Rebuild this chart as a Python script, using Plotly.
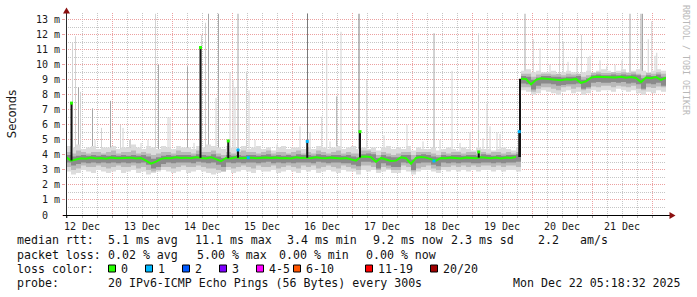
import numpy as np
import pandas as pd
import plotly.graph_objects as go

# ---------------- data ----------------
T0 = pd.Timestamp("2025-12-12 05:36")      # left edge of graph
T_END = pd.Timestamp("2025-12-22 05:36")   # right edge of graph
STEP_H = 2                                 # hours between samples

# median rtt in ms, one row per day (12 samples of 2 h) + final sample
median_ms = [
    3.85, 3.62, 3.70, 3.78, 3.75, 3.82, 3.76, 3.80, 3.74, 3.82, 3.78, 3.80,
    3.78, 3.82, 3.76, 3.80, 3.62, 3.42, 3.55, 3.74, 3.80, 3.78, 3.84, 3.80,
    3.82, 3.78, 3.85, 3.80, 3.76, 3.85, 3.70, 3.58, 3.80, 3.76, 3.84, 3.78,
    3.80, 3.82, 3.78, 3.80, 3.83, 3.79, 3.82, 3.78, 3.80, 3.76, 3.84, 3.80,
    3.82, 3.78, 3.85, 3.80, 3.78, 3.82, 3.80, 3.76, 3.80, 3.72, 3.62, 3.88,
    3.90, 3.85, 3.55, 3.80, 3.70, 3.60, 3.62, 3.84, 3.78, 3.42, 3.80, 3.86,
    3.82, 3.70, 3.62, 3.80, 3.78, 3.82, 3.80, 3.76, 3.82, 3.80, 3.78, 3.85,
    3.80, 3.78, 3.82, 3.76, 3.82, 3.80, 3.86, 9.07, 9.05, 8.70, 9.00, 9.10,
    9.08, 9.02, 9.05, 8.98, 9.04, 9.00, 9.06, 8.80, 8.90, 9.15, 9.20, 9.18,
    9.15, 9.18, 9.16, 9.20, 9.14, 9.18, 9.12, 8.85, 9.15, 9.10, 9.18, 9.00,
    9.15,
]
JUMP_INDEX = 91        # first sample after the level shift
JUMP_HOUR = 181.6      # hours after T0 at which the shift happens

# smoke: outer (lightest), middle and core bands, low / high edge in ms
outer_hi = [
    4.6, 4.5, 4.7, 4.4, 4.5, 4.6, 4.4, 4.5, 4.5, 4.6, 4.4, 4.5,
    4.5, 4.7, 4.5, 4.4, 4.6, 4.5, 4.4, 4.6, 4.5, 4.4, 4.6, 4.5,
    4.5, 4.4, 4.6, 4.5, 4.7, 4.6, 4.5, 4.4, 4.6, 4.5, 4.4, 4.6,
    4.4, 4.5, 4.6, 4.4, 4.5, 4.3, 4.5, 4.6, 4.4, 4.5, 4.5, 4.4,
    4.5, 4.4, 4.6, 4.5, 4.4, 4.5, 4.6, 4.4, 4.5, 4.6, 4.4, 4.5,
    4.4, 4.5, 4.3, 4.5, 4.6, 4.4, 4.5, 4.4, 4.6, 4.3, 4.5, 4.4,
    4.4, 4.5, 4.3, 4.4, 4.5, 4.4, 4.3, 4.5, 4.4, 4.3, 4.5, 4.4,
    4.4, 4.3, 4.4, 4.5, 4.4, 4.3, 4.5, 9.6, 9.7, 9.5, 9.6, 9.5,
    9.5, 9.6, 9.4, 9.5, 9.6, 9.5, 9.4, 9.5, 9.6, 9.5, 9.6, 9.7,
    9.6, 9.5, 9.6, 9.7, 9.5, 9.6, 9.7, 9.6, 9.5, 9.6, 9.7, 9.6,
    9.6,
]
outer_lo = [
    2.9, 2.7, 2.8, 3.0, 2.9, 2.8, 3.0, 2.9, 2.8, 2.9, 3.0, 2.8,
    2.9, 3.0, 2.8, 2.9, 2.7, 2.8, 2.9, 3.0, 2.9, 2.8, 2.9, 3.0,
    2.8, 2.9, 3.0, 2.9, 2.8, 2.7, 2.8, 2.9, 3.0, 2.8, 2.9, 3.0,
    2.9, 2.8, 3.0, 2.9, 2.9, 3.0, 2.8, 2.9, 3.0, 2.9, 2.8, 3.0,
    2.9, 3.0, 2.8, 2.9, 3.0, 2.9, 2.8, 3.0, 2.9, 2.9, 2.7, 3.0,
    2.9, 3.0, 2.8, 2.9, 3.0, 2.8, 2.8, 3.0, 2.9, 2.7, 2.9, 3.0,
    3.0, 2.9, 2.8, 3.0, 2.9, 3.0, 2.9, 3.0, 2.9, 3.0, 2.9, 3.0,
    3.0, 2.9, 3.0, 2.9, 3.0, 3.0, 2.9, 8.3, 8.2, 8.0, 8.1, 8.3,
    8.2, 8.1, 8.0, 8.2, 8.3, 8.1, 8.2, 8.0, 8.1, 8.3, 8.2, 8.3,
    8.3, 8.2, 8.4, 8.3, 8.2, 8.3, 8.1, 8.0, 8.2, 8.1, 8.3, 8.2,
    8.2,
]
mid_hi = [
    4.2, 4.1, 4.3, 4.2, 4.1, 4.2, 4.2, 4.1, 4.2, 4.3, 4.1, 4.2,
    4.2, 4.3, 4.1, 4.2, 4.1, 4.0, 4.1, 4.2, 4.2, 4.1, 4.3, 4.2,
    4.2, 4.1, 4.3, 4.2, 4.2, 4.3, 4.1, 4.0, 4.2, 4.1, 4.2, 4.3,
    4.2, 4.2, 4.1, 4.2, 4.3, 4.1, 4.2, 4.2, 4.1, 4.2, 4.3, 4.1,
    4.2, 4.1, 4.3, 4.2, 4.1, 4.2, 4.3, 4.1, 4.2, 4.1, 4.1, 4.3,
    4.3, 4.2, 4.0, 4.2, 4.1, 4.0, 4.1, 4.2, 4.2, 4.0, 4.2, 4.2,
    4.2, 4.1, 4.0, 4.2, 4.1, 4.2, 4.2, 4.1, 4.2, 4.2, 4.1, 4.2,
    4.1, 4.2, 4.2, 4.1, 4.2, 4.1, 4.2, 9.4, 9.4, 9.2, 9.35, 9.4,
    9.4, 9.35, 9.4, 9.3, 9.4, 9.35, 9.4, 9.2, 9.3, 9.45, 9.5, 9.45,
    9.45, 9.5, 9.45, 9.5, 9.45, 9.5, 9.4, 9.3, 9.45, 9.4, 9.5, 9.4,
    9.4,
]
mid_lo = [
    3.2, 3.0, 3.1, 3.3, 3.2, 3.2, 3.3, 3.2, 3.1, 3.2, 3.3, 3.2,
    3.2, 3.3, 3.1, 3.2, 3.0, 2.9, 3.0, 3.2, 3.2, 3.1, 3.2, 3.3,
    3.2, 3.2, 3.3, 3.2, 3.1, 3.1, 3.0, 2.9, 3.2, 3.1, 3.2, 3.3,
    3.2, 3.1, 3.3, 3.2, 3.2, 3.3, 3.1, 3.2, 3.3, 3.2, 3.1, 3.3,
    3.2, 3.3, 3.1, 3.2, 3.3, 3.2, 3.1, 3.3, 3.2, 3.1, 3.0, 3.3,
    3.3, 3.2, 3.0, 3.2, 3.1, 3.0, 3.0, 3.3, 3.2, 2.9, 3.1, 3.2,
    3.3, 3.1, 3.0, 3.2, 3.2, 3.3, 3.2, 3.3, 3.2, 3.3, 3.2, 3.3,
    3.3, 3.2, 3.3, 3.2, 3.3, 3.3, 3.2, 8.5, 8.5, 8.2, 8.4, 8.5,
    8.5, 8.4, 8.3, 8.5, 8.55, 8.4, 8.5, 8.3, 8.4, 8.55, 8.5, 8.6,
    8.6, 8.5, 8.6, 8.55, 8.5, 8.6, 8.4, 8.3, 8.5, 8.45, 8.55, 8.5,
    8.5,
]
core_hi = [
    4.0, 3.9, 3.95, 4.0, 3.95, 4.0, 3.95, 4.0, 3.95, 4.0, 3.95, 4.0,
    3.95, 4.0, 3.95, 4.0, 3.9, 3.75, 3.85, 3.95, 4.0, 3.95, 4.0, 4.0,
    4.0, 3.95, 4.05, 4.0, 3.95, 4.05, 3.9, 3.8, 4.0, 3.95, 4.0, 3.95,
    4.0, 4.0, 3.95, 4.0, 4.05, 3.95, 4.0, 3.95, 4.0, 3.95, 4.05, 4.0,
    4.0, 3.95, 4.05, 4.0, 3.95, 4.0, 4.0, 3.95, 4.0, 3.9, 3.85, 4.05,
    4.1, 4.05, 3.8, 4.0, 3.9, 3.85, 3.85, 4.0, 4.0, 3.7, 4.0, 4.05,
    4.0, 3.9, 3.85, 4.0, 3.95, 4.0, 4.0, 3.95, 4.0, 4.0, 3.95, 4.05,
    4.0, 3.95, 4.0, 3.95, 4.0, 4.0, 4.05, 9.25, 9.2, 9.0, 9.15, 9.25,
    9.25, 9.2, 9.2, 9.15, 9.2, 9.2, 9.25, 9.0, 9.1, 9.3, 9.35, 9.3,
    9.3, 9.35, 9.3, 9.35, 9.3, 9.35, 9.3, 9.1, 9.3, 9.25, 9.35, 9.2,
    9.25,
]
core_lo = [
    3.5, 3.3, 3.4, 3.5, 3.45, 3.5, 3.45, 3.5, 3.45, 3.5, 3.45, 3.5,
    3.45, 3.5, 3.45, 3.5, 3.35, 3.1, 3.2, 3.4, 3.5, 3.45, 3.5, 3.5,
    3.5, 3.45, 3.55, 3.5, 3.45, 3.5, 3.35, 3.2, 3.5, 3.45, 3.5, 3.45,
    3.5, 3.5, 3.45, 3.5, 3.55, 3.45, 3.5, 3.45, 3.5, 3.45, 3.5, 3.5,
    3.5, 3.45, 3.55, 3.5, 3.45, 3.5, 3.5, 3.45, 3.45, 3.35, 3.25, 3.55,
    3.55, 3.5, 3.1, 3.45, 3.3, 3.2, 3.2, 3.5, 3.45, 3.0, 3.45, 3.5,
    3.5, 3.35, 3.25, 3.5, 3.45, 3.5, 3.45, 3.5, 3.5, 3.45, 3.45, 3.5,
    3.5, 3.45, 3.5, 3.45, 3.5, 3.5, 3.55, 8.75, 8.7, 8.35, 8.6, 8.75,
    8.75, 8.7, 8.6, 8.65, 8.7, 8.7, 8.75, 8.4, 8.5, 8.8, 8.85, 8.8,
    8.8, 8.85, 8.8, 8.85, 8.75, 8.8, 8.7, 8.4, 8.75, 8.7, 8.8, 8.6,
    8.7,
]

# outlier pings (smoke spikes): hours after T0, top in ms, shade class
spike_hours = [2.6, 3.8, 5.0, 5.8, 10.6, 14.2, 17.8, 21.8, 22.8, 25.6, 32.8, 35.8,
               37.0, 40.8, 41.6, 48.6, 51.2, 54.2, 55.8, 57.0, 60.0, 61.0, 65.6, 66.8,
               67.6, 68.8, 72.2, 73.2, 96.6, 97.6, 102.3, 104.3, 108.3, 110.0, 117.2, 120.3,
               127.2, 136.4, 142.8, 147.2, 154.4, 165.0, 166.8, 168.4, 169.6, 172.4,
               183.6, 186.9, 189.6, 197.4, 198.9, 204.4, 206.2, 209.6, 213.6, 216.3,
               225.6, 230.0, 230.6, 232.9, 234.3, 236.3,
               11.6, 30.0, 75.6, 84.4, 93.6, 105.6, 128.4, 149.6, 157.6, 161.6, 173.6,
               193.6, 200.8, 208.8, 219.6, 222.4, 235.6]
spike_top_ms = [11.5, 11.9, 8.5, 8.2, 7.1, 5.8, 7.6, 6.0, 5.8, 5.0, 5.0, 13.4,
                10.0, 6.5, 6.5, 9.9, 4.8, 12.0, 12.8, 13.4, 7.8, 13.4, 9.5, 9.0,
                8.5, 13.4, 9.55, 8.3, 13.4, 5.5, 6.55, 11.0, 7.9, 12.2, 13.4, 9.0,
                5.3, 6.0, 4.9, 12.1, 9.6, 12.1, 5.1, 7.4, 5.9, 5.5,
                13.4, 11.7, 11.1, 13.0, 11.55, 10.5, 12.0, 10.6, 10.3, 9.9,
                13.4, 13.4, 13.4, 11.7, 12.9, 10.8,
                5.0, 4.8, 5.0, 4.7, 5.9, 4.9, 4.6, 5.0, 4.8, 5.5, 5.4,
                10.0, 10.2, 10.5, 10.0, 10.3, 10.6]
spike_shade = ["L", "L", "M", "L", "M", "L", "M", "L", "L", "M", "L", "L",
               "M", "L", "L", "M", "L", "L", "L", "M", "L", "M", "L", "L",
               "L", "M", "L", "L", "D", "L", "L", "L", "M", "L", "D", "L",
               "L", "L", "L", "M", "L", "L", "L", "L", "L", "L",
               "M", "L", "L", "L", "L", "L", "L", "L", "L", "L",
               "M", "M", "M", "L", "L", "L",
               "L", "L", "L", "L", "L", "L", "L", "L", "L", "L", "L",
               "L", "L", "L", "L", "L", "L"]

# single samples where the median itself jumped: hours after T0, median ms, lost pings
median_spike_hours = [2.2, 53.8, 64.9, 68.8, 72.9, 96.5, 117.6, 147.2, 165.1, 181.3]
median_spike_ms = [7.45, 11.15, 4.93, 4.33, 3.82, 4.9, 5.55, 3.6, 4.2, 5.55]
median_spike_loss = [0, 0, 0, 1, 1, 1, 0, 1, 0, 1]

# legend / statistics
rtt_stats = [("5.1", "avg"), ("11.1", "max"), ("3.4", "min"), ("9.2", "now"), ("2.3", "sd")]
rtt_am_s = "2.2"
loss_stats = [("0.02", "avg"), ("5.00", "max"), ("0.00", "min"), ("0.00", "now")]
loss_labels = ["0", "1", "2", "3", "4-5", "6-10", "11-19", "20/20"]
loss_colors = ["#26ff00", "#00b8ff", "#0059ff", "#7e00ff", "#ff00ff", "#ff5500", "#ff0000", "#a00000"]
probe_text = "20 IPv6-ICMP Echo Pings (56 Bytes) every 300s"
stamp_text = "Mon Dec 22 05:18:32 2025"
y_ticks = list(range(14))
y_ticktext = ["0\u00a0\u00a0"] + [f"{v} m" for v in y_ticks[1:]]

# ---------------- figure ----------------
W, H = 697, 297
ML, MR, MT, MB = 66, 31, 13, 82
PW, PH = W - ML - MR, H - MT - MB


def px(x):
    return (x - ML) / PW


def py(y):
    return (H - MB - y) / PH


hours = np.arange(len(median_ms)) * STEP_H
times = T0 + pd.to_timedelta(hours, unit="h")
med = np.array(median_ms)

fig = go.Figure()

# smoke spikes (drawn first, bands cover their bases)
shade_col = {"L": "#d2d2d2", "M": "#a6a6a6", "D": "#7a7a7a"}
for s in ["L", "M", "D"]:
    xs, ys = [], []
    for h, top, sh in zip(spike_hours, spike_top_ms, spike_shade):
        if sh != s:
            continue
        base = float(np.interp(h, hours, med))
        t = T0 + pd.Timedelta(hours=h)
        xs += [t, t, None]
        ys += [base, top, None]
    fig.add_trace(go.Scatter(x=xs, y=ys, mode="lines", line=dict(color=shade_col[s], width=1),
                             hoverinfo="skip"))

# smoke bands
for lo, hi, col in [(outer_lo, outer_hi, "#dcdcdc"), (mid_lo, mid_hi, "#b9b9b9"),
                    (core_lo, core_hi, "#8a8a8a")]:
    fig.add_trace(go.Scatter(x=times, y=lo, mode="lines", line=dict(width=0, shape="hv"),
                             hoverinfo="skip"))
    fig.add_trace(go.Scatter(x=times, y=hi, mode="lines", line=dict(width=0, shape="hv"),
                             fill="tonexty", fillcolor=col, hoverinfo="skip"))

# median line (green = no loss), split at the level shift
fig.add_trace(go.Scatter(x=times[:JUMP_INDEX], y=med[:JUMP_INDEX], mode="lines",
                         line=dict(color=loss_colors[0], width=2)))
fig.add_trace(go.Scatter(x=times[JUMP_INDEX:], y=med[JUMP_INDEX:], mode="lines",
                         line=dict(color=loss_colors[0], width=2)))

# level shift and single-sample median spikes
tj = T0 + pd.Timedelta(hours=JUMP_HOUR)
xs, ys = [tj, tj, None], [med[JUMP_INDEX - 1], med[JUMP_INDEX], None]
for h, v in zip(median_spike_hours, median_spike_ms):
    base = float(np.interp(h, hours[:JUMP_INDEX], med[:JUMP_INDEX]))
    t = T0 + pd.Timedelta(hours=h)
    xs += [t, t, None]
    ys += [base, v, None]
fig.add_trace(go.Scatter(x=xs, y=ys, mode="lines", line=dict(color="#141414", width=2)))
fig.add_trace(go.Scatter(x=[T0 + pd.Timedelta(hours=h) for h in median_spike_hours],
                         y=median_spike_ms, mode="markers",
                         marker=dict(symbol="square", size=3,
                                     color=[loss_colors[k] for k in median_spike_loss],
                                     line=dict(width=0))))

grid_major = "#eca0a0"
grid_minor = "#c6c6c6"
fig.update_xaxes(range=[T0, T_END], type="date", tickmode="linear", tick0="2025-12-13",
                 dtick=86400000, ticklabelmode="period", tickformat="%d %b",
                 showgrid=True, gridcolor=grid_major, griddash="1px,1px", gridwidth=1,
                 ticks="outside", ticklen=2, tickcolor="#999999",
                 minor=dict(tick0="2025-12-13", dtick=6 * 3600000, showgrid=True,
                            gridcolor=grid_minor, griddash="1px,1px", ticks="outside",
                            ticklen=2, tickcolor="#bbbbbb"),
                 showline=False, zeroline=False, automargin=False,
                 tickfont=dict(family="DejaVu Sans Mono", size=10, color="#1a1a1a"))
fig.update_yaxes(range=[0, 13.45], tickmode="array", tickvals=y_ticks, ticktext=y_ticktext,
                 showgrid=True, gridcolor=grid_major, griddash="1px,1px", gridwidth=1,
                 ticks="outside", ticklen=3, tickcolor=grid_major,
                 minor=dict(tickmode="linear", tick0=0, dtick=0.5, showgrid=True,
                            gridcolor=grid_minor, griddash="1px,1px"),
                 showline=False, zeroline=False, automargin=False,
                 tickfont=dict(family="DejaVu Sans Mono", size=10, color="#1a1a1a"),
                 title=dict(text="Seconds", standoff=16,
                            font=dict(family="DejaVu Sans", size=11.5, color="#1a1a1a")))

shapes = []
# axes
shapes.append(dict(type="line", xref="paper", yref="paper", x0=px(66.5), x1=px(66.5),
                   y0=py(218), y1=py(12), line=dict(color="#2a2a2a", width=1)))
shapes.append(dict(type="line", xref="paper", yref="paper", x0=px(63), x1=px(671),
                   y0=py(215.5), y1=py(215.5), line=dict(color="#000000", width=1)))
# arrows
arrow_col = "#8b1010"
shapes.append(dict(type="path", xref="paper", yref="paper",
                   path=f"M {px(66.5)} {py(7.5)} L {px(63)} {py(13.5)} L {px(70)} {py(13.5)} Z",
                   fillcolor=arrow_col, line=dict(width=0)))
shapes.append(dict(type="path", xref="paper", yref="paper",
                   path=f"M {px(675.5)} {py(215.5)} L {px(669.5)} {py(212)} L {px(669.5)} {py(219)} Z",
                   fillcolor=arrow_col, line=dict(width=0)))

annotations = []
FONT = "DejaVu Sans Mono"


def ann(text, x, y, size=11.6, color="#111111", anchor="left", angle=0):
    annotations.append(dict(text=text, x=px(x), y=py(y), xref="paper", yref="paper",
                            xanchor=anchor, yanchor="middle", showarrow=False, borderpad=0,
                            textangle=angle, font=dict(family=FONT, size=size, color=color)))


# line 1: median rtt
L1, L2, L3, L4 = 240.5, 254.5, 268.5, 282.5
ann("median rtt:", 15.5, L1)
for (v, k), x in zip(rtt_stats, [106.5, 193.5, 285.5, 371.5, 449.5]):
    ann(f"{v} ms {k}", x, L1)
ann(rtt_am_s, 536.5, L1)
ann("am/s", 578.5, L1)
# line 2: packet loss
ann("packet loss:", 15.5, L2)
for (v, k), x in zip(loss_stats, [106.5, 195.5, 277.5, 364.5]):
    ann(f"{v} % {k}", x, L2)
# line 3: loss colours
ann("loss color:", 15.5, L3)
for lab, col, sx in zip(loss_labels, loss_colors,
                        [108.5, 145.5, 182.5, 219.5, 256.5, 293.5, 365.5, 430.5]):
    shapes.append(dict(type="rect", xref="paper", yref="paper", x0=px(sx), x1=px(sx + 7),
                       y0=py(272), y1=py(265), fillcolor=col,
                       line=dict(color="#000000", width=1)))
    ann(lab, sx + 11, L3)
# line 4: probe + timestamp
ann("probe:", 15.5, L4)
ann(probe_text, 106.5, L4)
ann(stamp_text, 681.5, L4, anchor="right")
# watermark
ann("RRDTOOL / TOBI OETIKER", 686, 60, size=8.3, color="#b8b8b8", anchor="center", angle=90)

fig.update_layout(width=W, height=H, margin=dict(l=ML, r=MR, t=MT, b=MB, autoexpand=False),
                  paper_bgcolor="white", plot_bgcolor="white", showlegend=False,
                  shapes=shapes, annotations=annotations, hovermode=False)

fig.write_html("out.html")
